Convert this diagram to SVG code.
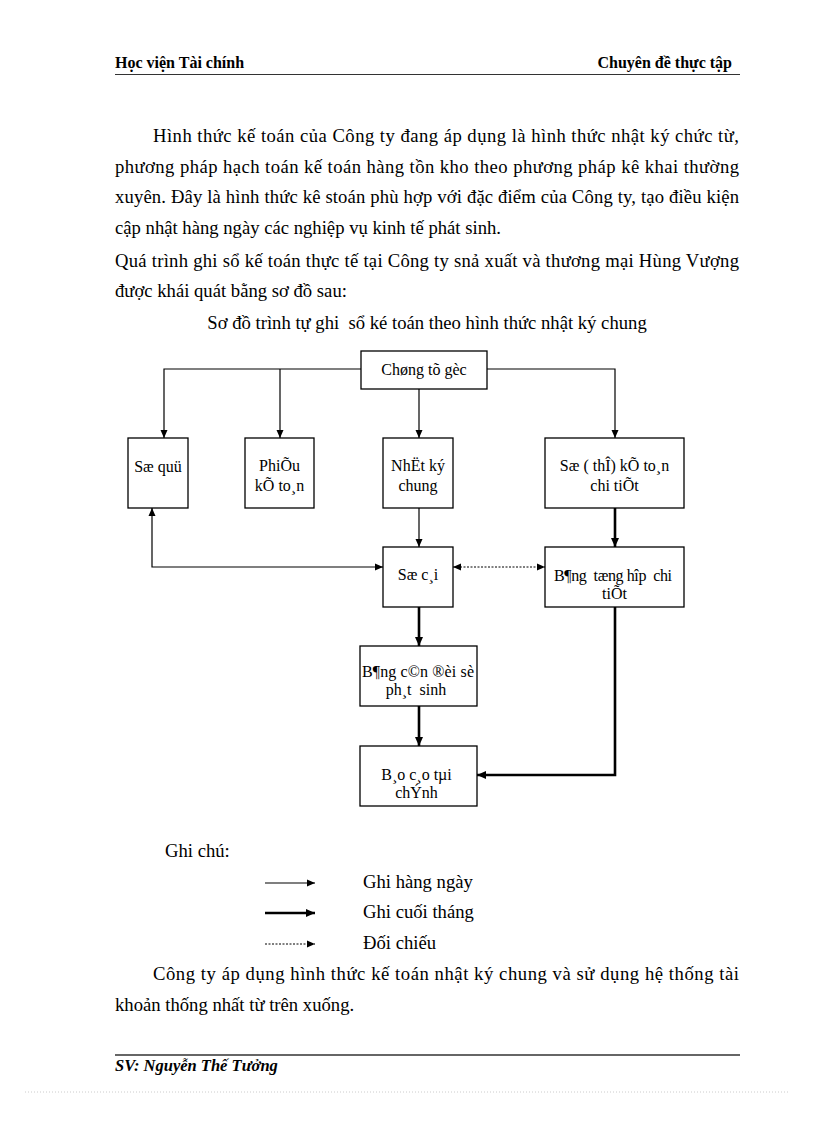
<svg xmlns="http://www.w3.org/2000/svg" width="816" height="1123" viewBox="0 0 816 1123">
<style>
text{font-family:"Liberation Serif","Times New Roman",serif;fill:#000}
.hd{font-size:16px;font-weight:bold}
.ft{font-size:16.5px;font-weight:bold;font-style:italic}
.body{font-size:18.67px}
.bx{font-size:16px;text-anchor:middle}
.pre{white-space:pre}
.box{fill:#fff;stroke:#000;stroke-width:1.3}
.thin{fill:none;stroke:#000;stroke-width:1.2}
.thick{fill:none;stroke:#000;stroke-width:2.6}
.dot{fill:none;stroke:#000;stroke-width:1;stroke-dasharray:2 1.5}
</style>
<defs>
<marker id="a" markerUnits="userSpaceOnUse" markerWidth="9" markerHeight="8" refX="8" refY="4" orient="auto-start-reverse"><path d="M0,0.5 L8,4 L0,7.5 z" fill="#000"/></marker>
<marker id="ab" markerUnits="userSpaceOnUse" markerWidth="10" markerHeight="9" refX="9" refY="4.5" orient="auto-start-reverse"><path d="M0,0.5 L9,4.5 L0,8.5 z" fill="#000"/></marker>
</defs>
<rect width="816" height="1123" fill="#fff"/>

<!-- header -->
<text class="hd" x="115" y="68">Học viện Tài chính</text>
<text class="hd" x="732" y="68" text-anchor="end">Chuyên đề thực tập</text>
<line x1="115" y1="74.5" x2="740" y2="74.5" stroke="#333" stroke-width="1"/>

<!-- body text -->
<text class="body" x="153" y="142" textLength="586" lengthAdjust="spacing">Hình thức kế toán của Công ty đang áp dụng là hình thức nhật ký chức từ,</text>
<text class="body" x="115" y="173" textLength="624" lengthAdjust="spacing">phương pháp hạch toán kế toán hàng tồn kho theo phương pháp kê khai thường</text>
<text class="body" x="115" y="203" textLength="624" lengthAdjust="spacing">xuyên. Đây là hình thức kê stoán phù hợp với đặc điểm của Công ty, tạo điều kiện</text>
<text class="body" x="115" y="234">cập nhật hàng ngày các nghiệp vụ kinh tế phát sinh.</text>
<text class="body" x="115" y="267" textLength="624" lengthAdjust="spacing">Quá trình ghi sổ kế toán thực tế tại Công ty snả xuất và thương mại Hùng Vượng</text>
<text class="body" x="115" y="297">được khái quát bằng sơ đồ sau:</text>
<text class="body pre" x="427" y="329" text-anchor="middle">Sơ đồ trình tự ghi  sổ ké toán theo hình thức nhật ký chung</text>

<!-- connectors -->
<g id="connectors">
<path class="thin" d="M361,369 H164 V438" marker-end="url(#a)"/>
<path class="thin" d="M280,369 V438" marker-end="url(#a)"/>
<path class="thin" d="M419,389 V438" marker-end="url(#a)"/>
<path class="thin" d="M487,369 H615 V438" marker-end="url(#a)"/>
<path class="thin" d="M419,508 V547" marker-end="url(#a)"/>
<path class="thin" d="M152,508 V567 H383" marker-start="url(#a)" marker-end="url(#a)"/>
<path class="dot" d="M453,567 H545" marker-start="url(#a)" marker-end="url(#a)"/>
<path class="thick" d="M615,508 V547" marker-end="url(#ab)"/>
<path class="thick" d="M419,607 V646" marker-end="url(#ab)"/>
<path class="thick" d="M419,706 V746" marker-end="url(#ab)"/>
<path class="thick" d="M615,607 V775 H477" marker-end="url(#ab)"/>
</g>

<!-- nodes -->
<g id="chung-tu-goc">
<rect class="box" x="361" y="351" width="126" height="38"/>
<text class="bx" x="424" y="375">Chøng tõ gèc</text>
</g>
<g id="so-quy">
<rect class="box" x="128" y="438" width="60" height="70"/>
<text class="bx" x="158" y="472">Sæ quü</text>
</g>
<g id="phieu-ke-toan">
<rect class="box" x="245" y="438" width="69" height="70"/>
<text class="bx" x="279.5" y="471">PhiÕu</text>
<text class="bx" x="279.5" y="491">kÕ to¸n</text>
</g>
<g id="nhat-ky-chung">
<rect class="box" x="383" y="438" width="70" height="70"/>
<text class="bx" x="418" y="471">NhËt ký</text>
<text class="bx" x="418" y="491">chung</text>
</g>
<g id="so-the-chi-tiet">
<rect class="box" x="545" y="438" width="139" height="70"/>
<text class="bx" x="614.5" y="471">Sæ ( thÎ) kÕ to¸n</text>
<text class="bx" x="614.5" y="491">chi tiÕt</text>
</g>
<g id="so-cai">
<rect class="box" x="383" y="547" width="70" height="60"/>
<text class="bx" x="418" y="580">Sæ c¸i</text>
</g>
<g id="bang-tong-hop">
<rect class="box" x="545" y="547" width="139" height="60"/>
<text class="bx pre" x="554" y="581" style="text-anchor:start" textLength="118" lengthAdjust="spacing">B¶ng  tæng hîp  chi</text>
<text class="bx" x="614.5" y="599">tiÕt</text>
</g>
<g id="bang-can-doi">
<rect class="box" x="360" y="646" width="117" height="60"/>
<text class="bx" x="362" y="677" style="text-anchor:start" textLength="112" lengthAdjust="spacing">B¶ng c©n ®èi sè</text>
<text class="bx pre" x="416" y="695">ph¸t  sinh</text>
</g>
<g id="bao-cao-tai-chinh">
<rect class="box" x="360" y="746" width="117" height="60"/>
<text class="bx" x="416.5" y="780">B¸o c¸o tµi</text>
<text class="bx" x="416.5" y="798">chÝnh</text>
</g>

<!-- legend -->
<g id="legend">
<text class="body" x="165" y="857">Ghi chú:</text>
<path class="thin" d="M265,883 H315" marker-end="url(#a)"/>
<path class="thick" d="M265,913 H315" marker-end="url(#ab)"/>
<path class="dot" d="M265,944 H315" marker-end="url(#a)"/>
<text class="body" x="363" y="888">Ghi hàng ngày</text>
<text class="body" x="363" y="918">Ghi cuối tháng</text>
<text class="body" x="363" y="949">Đối chiếu</text>
</g>

<text class="body" x="153" y="980" textLength="586" lengthAdjust="spacing">Công ty áp dụng hình thức kế toán nhật ký chung và sử dụng hệ thống tài</text>
<text class="body" x="115" y="1011">khoản thống nhất từ trên xuống.</text>

<!-- footer -->
<line x1="115" y1="1055" x2="740" y2="1055" stroke="#333" stroke-width="1.5"/>
<text class="ft" x="115" y="1071">SV: Nguyễn Thế Tưởng</text>
<line x1="25" y1="1092" x2="790" y2="1092" stroke="#ccc" stroke-width="1" stroke-dasharray="1 2"/>
</svg>
